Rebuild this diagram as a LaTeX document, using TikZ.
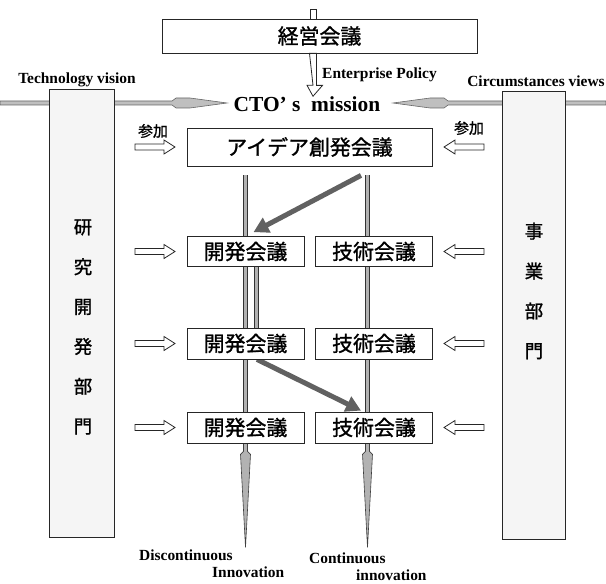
\documentclass[tikz,border=0pt]{standalone}
\usepackage{fontspec}
\setmainfont{Liberation Serif}
\newfontfamily\jp[FakeBold=1.2]{Noto Sans CJK JP}
\usetikzlibrary{arrows.meta,calc}
\pgfdeclarelayer{bg}
\pgfsetlayers{bg,main}
\begin{document}
\begin{tikzpicture}[x=1bp,y=-1bp,
  box/.style={draw=black!85, line width=0.8bp, fill=white, inner sep=0pt},
  jpt/.style={font=\jp\fontsize{21}{24}\selectfont},
  rowbox/.style={box, jpt, minimum width=117bp, minimum height=30bp},
  tall/.style={draw=black!85, line width=0.8bp, fill=black!4, inner sep=0pt, minimum width=65bp, minimum height=448bp},
  vtext/.style={font=\jp\fontsize{18.5}{40}\selectfont, align=center, inner sep=0pt},
  lbl/.style={font=\bfseries\fontsize{15.5}{17}\selectfont, inner sep=0pt},
  bar/.style={draw=black!80, line width=0.9bp, double=gray!60, double distance=3.4bp},
  band/.style={draw=black!60, line width=0.6bp, fill=gray!50},
  hollow/.style={draw=black!85, line width=0.8bp, fill=white},
  diag/.style={draw=black!62, line width=5bp, -{Triangle[width=16bp,length=15bp]}},
  taperfill/.style={draw=black!75, line width=0.6bp, fill=gray!60},
  rarr/.pic={\path[hollow] (-20,-3) -- (9,-3) -- (9,-7) -- (20,0) -- (9,7) -- (9,3) -- (-20,3) -- cycle;},
  larr/.pic={\path[hollow] (20,-3) -- (-9,-3) -- (-9,-7) -- (-20,0) -- (-9,7) -- (-9,3) -- (20,3) -- cycle;},
  tap/.pic={\path[taperfill] (-2,0) -- (-2,8) -- (-5,11) -- (0,104) -- (5,11) -- (2,8) -- (2,0) -- cycle;}
]
\useasboundingbox (0,0) rectangle (606,584);

% horizontal bands toward CTO's mission
\path[band] (0,101) -- (172,101) -- (176,98) -- (190,98) -- (227,103) -- (190,108) -- (176,108) -- (172,105) -- (0,105) -- cycle;
\path[band] (606,101) -- (448,101) -- (444,98) -- (430,98) -- (393,103) -- (430,108) -- (444,108) -- (448,105) -- (606,105) -- cycle;

% tall side boxes
\node[tall] (rd) at (82,313.5) {};
\node[tall, minimum width=63bp] (biz) at (533.5,315) {};
\node[vtext] (rdtext) at (83,327) {研\\究\\開\\発\\部\\門};
\node[vtext] (biztext) at (534,291) {事\\業\\部\\門};

% top stem
\path[hollow] (310,20) -- (310,9) -- (316,9) -- (316,20);

% main boxes
\node[box, jpt, minimum width=315bp, minimum height=34bp] (keiei) at (319.5,36) {経営会議};
\node[font=\bfseries\fontsize{21.5}{24}\selectfont, inner sep=0pt] (cto) at (307,104) {CTO’ s\ \ mission};
\node[box, jpt, minimum width=245bp, minimum height=38bp] (idea) at (309.5,147) {アイデア創発会議};
\node[rowbox] (dev1) at (245.5,251.5) {開発会議};
\node[rowbox] (tech1) at (374,251.5) {技術会議};
\node[rowbox, minimum height=31bp] (dev2) at (245.5,343.5) {開発会議};
\node[rowbox, minimum height=31bp] (tech2) at (374,343.5) {技術会議};
\node[rowbox, minimum height=31bp] (dev3) at (245.5,427.5) {開発会議};
\node[rowbox, minimum height=31bp] (tech3) at (374,427.5) {技術会議};

% enterprise policy arrow
\path[hollow] ($(keiei.south)+(-10,0)$) -- ++(7,0) -- ++(0,32) -- ++(6,0) -- (cto.north -| 313,0) -- ++(-6,-11) -- ++(6,0) -- cycle;

% labels
\node[lbl] (tv) at (77,80) {Technology vision};
\node[lbl] (cv) at (536,81) {Circumstances views};
\node[lbl, anchor=west] (ep) at (322,75) {Enterprise Policy};
\node[lbl, anchor=west] (disc) at (139,555) {Discontinuous};
\node[lbl, anchor=west] (inn1) at (212,572) {Innovation};
\node[lbl, anchor=west] (cont) at (309,558) {Continuous};
\node[lbl, anchor=west] (inn2) at (356,575) {innovation};
\node[font=\jp\fontsize{15}{16}\selectfont, inner sep=0pt] (sanka1) at (153,131) {参加};
\node[font=\jp\fontsize{15}{16}\selectfont, inner sep=0pt] (sanka2) at (469,128) {参加};

% participation arrows
\foreach \n in {idea,dev1,dev2,dev3} {
  \pic at (155,0 |- \n.center) {rarr};
}
\foreach \n in {idea,tech1,tech2,tech3} {
  \pic at (464,0 |- \n.center) {larr};
}

\begin{pgfonlayer}{bg}
% bars
\draw[bar] ($(idea.south -| dev1.center)+(0,9)$) -- (dev1.north);
\draw[bar] ($(idea.south -| tech1.center)+(-6.5,9)$) -- ($(tech1.north)+(-6.5,0)$);
\draw[bar] (dev1.south) -- (dev2.north);
\draw[bar] ($(dev1.south)+(11,0)$) -- ($(dev2.north)+(11,0)$);
\draw[bar] (dev2.south) -- (dev3.north);
\draw[bar] ($(tech1.south)+(-6.5,0)$) -- ($(tech2.north)+(-6.5,0)$);
\draw[bar] ($(tech2.south)+(-6.5,0)$) -- ($(tech3.north)+(-6.5,0)$);
\pic at (dev3.south) {tap};
\pic at ($(tech3.south)+(-6.5,0)$) {tap};
% diagonal arrows
\draw[diag] ($(idea.south -| tech1.center)+(-13,9)$) -- ($(dev1.north)+(8,-4)$);
\draw[diag] ($(dev2.south)+(11.5,0)$) -- ($(tech3.north)+(-13,-1)$);
\end{pgfonlayer}

\end{tikzpicture}
\end{document}
